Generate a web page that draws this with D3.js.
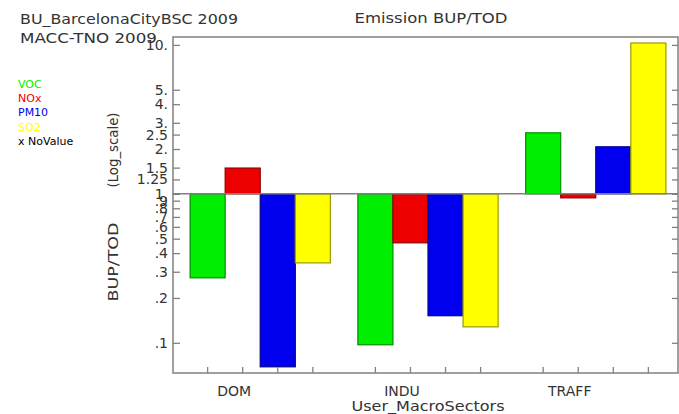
<!DOCTYPE html>
<html>
<head>
<meta charset="utf-8">
<script src="https://cdn.jsdelivr.net/npm/d3@7"></script>
<style>
  body { margin:0; background:#fff; }
  svg text { font-family:"DejaVu Sans", sans-serif; }
</style>
</head>
<body>
<div id="chart"></div>
<script>
(function(){

/* ---------- data ---------- */
const sectors   = ["DOM", "INDU", "TRAFF"];
const species   = ["VOC", "NOx", "PM10", "SO2"];
const colors    = ["#00ee00", "#ee0000", "#0000ee", "#ffff00"];
// BUP/TOD ratio per sector, one array per species
const vocVals   = [0.273, 0.097, 2.57];
const noxVals   = [1.49, 0.469, 0.94];
const pm10Vals  = [0.069, 0.152, 2.07];
const so2Vals   = [0.344, 0.128, 10.3];
const seriesVals = [vocVals, noxVals, pm10Vals, so2Vals];

const tickVals   = [10, 5, 4, 3, 2.5, 2, 1.5, 1.25, 1, .9, .8, .7, .6, .5, .4, .3, .2, .1];
const tickLabels = ["10.","5.","4.","3.","2.5","2.","1.5","1.25","1.",".9",".8",".7",".6",".5",".4",".3",".2",".1"];

/* ---------- layout ---------- */
const W = 679, H = 414;
const left = 173, right = 678, top = 37, bottom = 373;

const svg = d3.select("#chart").append("svg")
  .attr("width", W).attr("height", H);

const x = d3.scaleBand().domain(sectors).range([175, 681]).paddingInner(0.164).paddingOuter(0.09);
const xs = d3.scaleBand().domain(species).range([0, x.bandwidth()]);
const y = d3.scaleLog().domain([0.0627, 11.3]).range([bottom, top]);

const axisCol = "#808080";
const txtCol = "#333";

/* ---------- bars ---------- */
const bars = [];
sectors.forEach((s, i) => species.forEach((sp, j) =>
  bars.push({sector:s, species:sp, color:colors[j], v:seriesVals[j][i]})));

svg.append("g").selectAll("rect").data(bars).enter().append("rect")
  .attr("x", d => x(d.sector) + xs(d.species))
  .attr("width", xs.bandwidth())
  .attr("y", d => Math.min(y(d.v), y(1)))
  .attr("height", d => Math.abs(y(d.v) - y(1)))
  .attr("fill", d => d.color)
  .attr("stroke", d => d3.color(d.color).darker(1.4))
  .attr("stroke-width", 1.2);

/* ---------- frame & baseline ---------- */
const frame = svg.append("g").attr("stroke", axisCol).attr("stroke-width", 1.5).attr("fill", "none");
frame.append("rect").attr("x", left).attr("y", top).attr("width", right - left).attr("height", bottom - top);
frame.append("line").attr("x1", left).attr("x2", right).attr("y1", y(1)).attr("y2", y(1));

/* ---------- left axis ---------- */
const yAxis = d3.axisRight(y).tickValues(tickVals).tickSize(7).tickFormat("");
const ga = svg.append("g").attr("transform", `translate(${left},0)`).call(yAxis);
ga.select(".domain").remove();
ga.selectAll("line").attr("stroke", axisCol).attr("stroke-width", 1.3);

svg.append("g").selectAll("text").data(tickVals).enter().append("text")
  .attr("x", left - 5).attr("y", d => y(d) + 5)
  .attr("text-anchor", "end")
  .style("font-size", "14px").attr("fill", txtCol)
  .text((d, i) => tickLabels[i]);

/* right axis ticks */
const yAxisR = d3.axisLeft(y).tickValues(tickVals).tickSize(6).tickFormat("");
const gr = svg.append("g").attr("transform", `translate(${right},0)`).call(yAxisR);
gr.select(".domain").remove();
gr.selectAll("line").attr("stroke", axisCol).attr("stroke-width", 1.3);

/* bottom ticks at bar centres */
svg.append("g").selectAll("line").data(bars).enter().append("line")
  .attr("x1", d => x(d.sector) + xs(d.species) + xs.bandwidth()/2)
  .attr("x2", d => x(d.sector) + xs(d.species) + xs.bandwidth()/2)
  .attr("y1", bottom).attr("y2", bottom - 6)
  .attr("stroke", axisCol).attr("stroke-width", 1.3);

/* category labels */
svg.append("g").selectAll("text").data(sectors).enter().append("text")
  .attr("x", d => x(d) + x.bandwidth()/2 - 26).attr("y", 396)
  .attr("text-anchor", "middle").style("font-size", "14px").attr("fill", txtCol)
  .text(d => d);

svg.append("text").attr("x", 428).attr("y", 411).attr("text-anchor", "middle")
  .attr("textLength", 153).attr("lengthAdjust", "spacingAndGlyphs")
  .style("font-size", "14px").attr("fill", txtCol).text("User_MacroSectors");

/* y label (two pieces, IDL-style spacing) */
svg.append("text")
  .attr("transform", "translate(118,150) rotate(-90)")
  .attr("text-anchor", "middle").style("font-size", "14px").attr("fill", txtCol)
  .attr("textLength", 75).attr("lengthAdjust", "spacingAndGlyphs")
  .text("(Log_scale)");
svg.append("text")
  .attr("transform", "translate(118,262) rotate(-90)")
  .attr("text-anchor", "middle").style("font-size", "14px").attr("fill", txtCol)
  .attr("textLength", 79).attr("lengthAdjust", "spacingAndGlyphs")
  .text("BUP/TOD");

/* titles */
svg.append("text").attr("x", 20).attr("y", 24).style("font-size", "14px").attr("fill", txtCol)
  .attr("textLength", 218).attr("lengthAdjust", "spacingAndGlyphs")
  .text("BU_BarcelonaCityBSC 2009");
svg.append("text").attr("x", 20).attr("y", 43).style("font-size", "14px").attr("fill", txtCol)
  .attr("textLength", 137).attr("lengthAdjust", "spacingAndGlyphs")
  .text("MACC-TNO 2009");
svg.append("text").attr("x", 431).attr("y", 23).attr("text-anchor", "middle")
  .attr("textLength", 153).attr("lengthAdjust", "spacingAndGlyphs")
  .style("font-size", "14px").attr("fill", txtCol).text("Emission BUP/TOD");

/* legend */
const legItems = species.map((s, i) => ({label:s, color:colors[i]}))
  .concat([{label:"x NoValue", color:"#000"}]);
svg.append("g").selectAll("text").data(legItems).enter().append("text")
  .attr("x", 18).attr("y", (d, i) => 88 + i * 14.2)
  .style("font-size", "11px").attr("fill", d => d.color)
  .text(d => d.label);

})();
</script>
</body>
</html>
